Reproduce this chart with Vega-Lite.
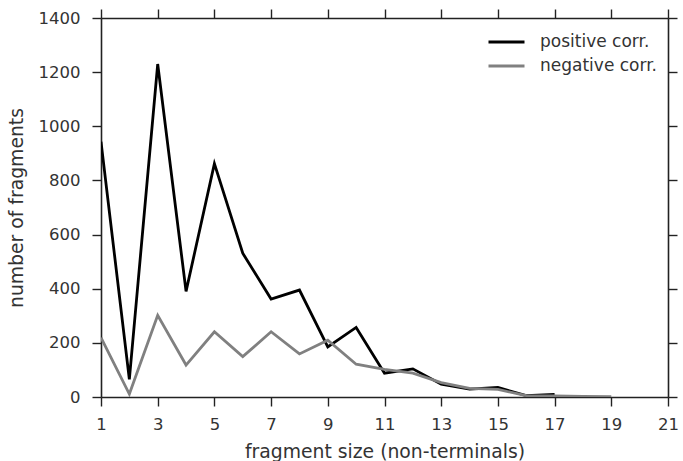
{
  "$schema": "https://vega.github.io/schema/vega-lite/v6.json",
  "width": 567,
  "height": 379,
  "autosize": {"type": "none"},
  "padding": {"left": 101, "top": 18, "right": 15, "bottom": 64},
  "background": "white",
  "config": {
    "view": {"stroke": null},
    "font": "DejaVu Sans",
    "axis": {
      "domainColor": "#222",
      "domainWidth": 1.6,
      "tickColor": "#222",
      "tickWidth": 1.4,
      "tickSize": 9,
      "grid": false,
      "labelFlush": false,
      "labelFont": "DejaVu Sans",
      "labelFontSize": 16.5,
      "labelColor": "#333",
      "titleFont": "DejaVu Sans",
      "titleFontSize": 18.8,
      "titleFontWeight": "normal",
      "titleColor": "#333"
    }
  },
  "data": {
    "values": [
      {"size": 1, "series": "positive corr.", "count": 943},
      {"size": 2, "series": "positive corr.", "count": 65},
      {"size": 3, "series": "positive corr.", "count": 1230},
      {"size": 4, "series": "positive corr.", "count": 390},
      {"size": 5, "series": "positive corr.", "count": 862},
      {"size": 6, "series": "positive corr.", "count": 531},
      {"size": 7, "series": "positive corr.", "count": 362},
      {"size": 8, "series": "positive corr.", "count": 395},
      {"size": 9, "series": "positive corr.", "count": 185},
      {"size": 10, "series": "positive corr.", "count": 257},
      {"size": 11, "series": "positive corr.", "count": 88},
      {"size": 12, "series": "positive corr.", "count": 104},
      {"size": 13, "series": "positive corr.", "count": 47},
      {"size": 14, "series": "positive corr.", "count": 29},
      {"size": 15, "series": "positive corr.", "count": 35},
      {"size": 16, "series": "positive corr.", "count": 5},
      {"size": 17, "series": "positive corr.", "count": 10},
      {"size": 1, "series": "negative corr.", "count": 219},
      {"size": 2, "series": "negative corr.", "count": 11},
      {"size": 3, "series": "negative corr.", "count": 302},
      {"size": 4, "series": "negative corr.", "count": 118},
      {"size": 5, "series": "negative corr.", "count": 241},
      {"size": 6, "series": "negative corr.", "count": 149},
      {"size": 7, "series": "negative corr.", "count": 241},
      {"size": 8, "series": "negative corr.", "count": 159},
      {"size": 9, "series": "negative corr.", "count": 210},
      {"size": 10, "series": "negative corr.", "count": 121},
      {"size": 11, "series": "negative corr.", "count": 102},
      {"size": 12, "series": "negative corr.", "count": 88},
      {"size": 13, "series": "negative corr.", "count": 53},
      {"size": 14, "series": "negative corr.", "count": 32},
      {"size": 15, "series": "negative corr.", "count": 28},
      {"size": 16, "series": "negative corr.", "count": 5},
      {"size": 17, "series": "negative corr.", "count": 4},
      {"size": 18, "series": "negative corr.", "count": 2},
      {"size": 19, "series": "negative corr.", "count": 1}
    ]
  },
  "layer": [
    {
      "mark": {"type": "line", "strokeWidth": 2.8, "clip": true},
      "encoding": {
        "x": {
          "field": "size", "type": "quantitative",
          "scale": {"domain": [1, 21], "nice": false, "zero": false},
          "axis": {"orient": "bottom", "values": [1,3,5,7,9,11,13,15,17,19,21], "title": "fragment size (non-terminals)", "labelPadding": 10, "titlePadding": 10}
        },
        "y": {
          "field": "count", "type": "quantitative",
          "scale": {"domain": [0, 1400], "nice": false},
          "axis": {"orient": "left", "values": [0,200,400,600,800,1000,1200,1400], "format": "d", "title": "number of fragments", "labelPadding": 12, "titlePadding": 12}
        },
        "color": {
          "field": "series", "type": "nominal",
          "scale": {"domain": ["positive corr.", "negative corr."], "range": ["#000000", "#808080"]},
          "legend": {
            "title": null,
            "orient": "none",
            "legendX": 386,
            "legendY": 12,
            "symbolType": "stroke",
            "symbolSize": 1296,
            "symbolStrokeWidth": 2.8,
            "labelFont": "DejaVu Sans",
            "labelFontSize": 17,
            "labelColor": "#333",
            "labelOffset": 14,
            "labelLimit": 0,
            "rowPadding": 0,
            "clipHeight": 24
          }
        }
      }
    },
    {
      "mark": {"type": "line", "opacity": 0},
      "encoding": {
        "x": {
          "field": "size", "type": "quantitative",
          "axis": {"orient": "top", "values": [1,3,5,7,9,11,13,15,17,19,21], "labels": false, "title": null}
        },
        "y": {
          "field": "count", "type": "quantitative",
          "axis": {"orient": "right", "values": [0,200,400,600,800,1000,1200,1400], "labels": false, "title": null}
        },
        "detail": {"field": "series"}
      }
    }
  ],
  "resolve": {"axis": {"x": "independent", "y": "independent"}}
}
